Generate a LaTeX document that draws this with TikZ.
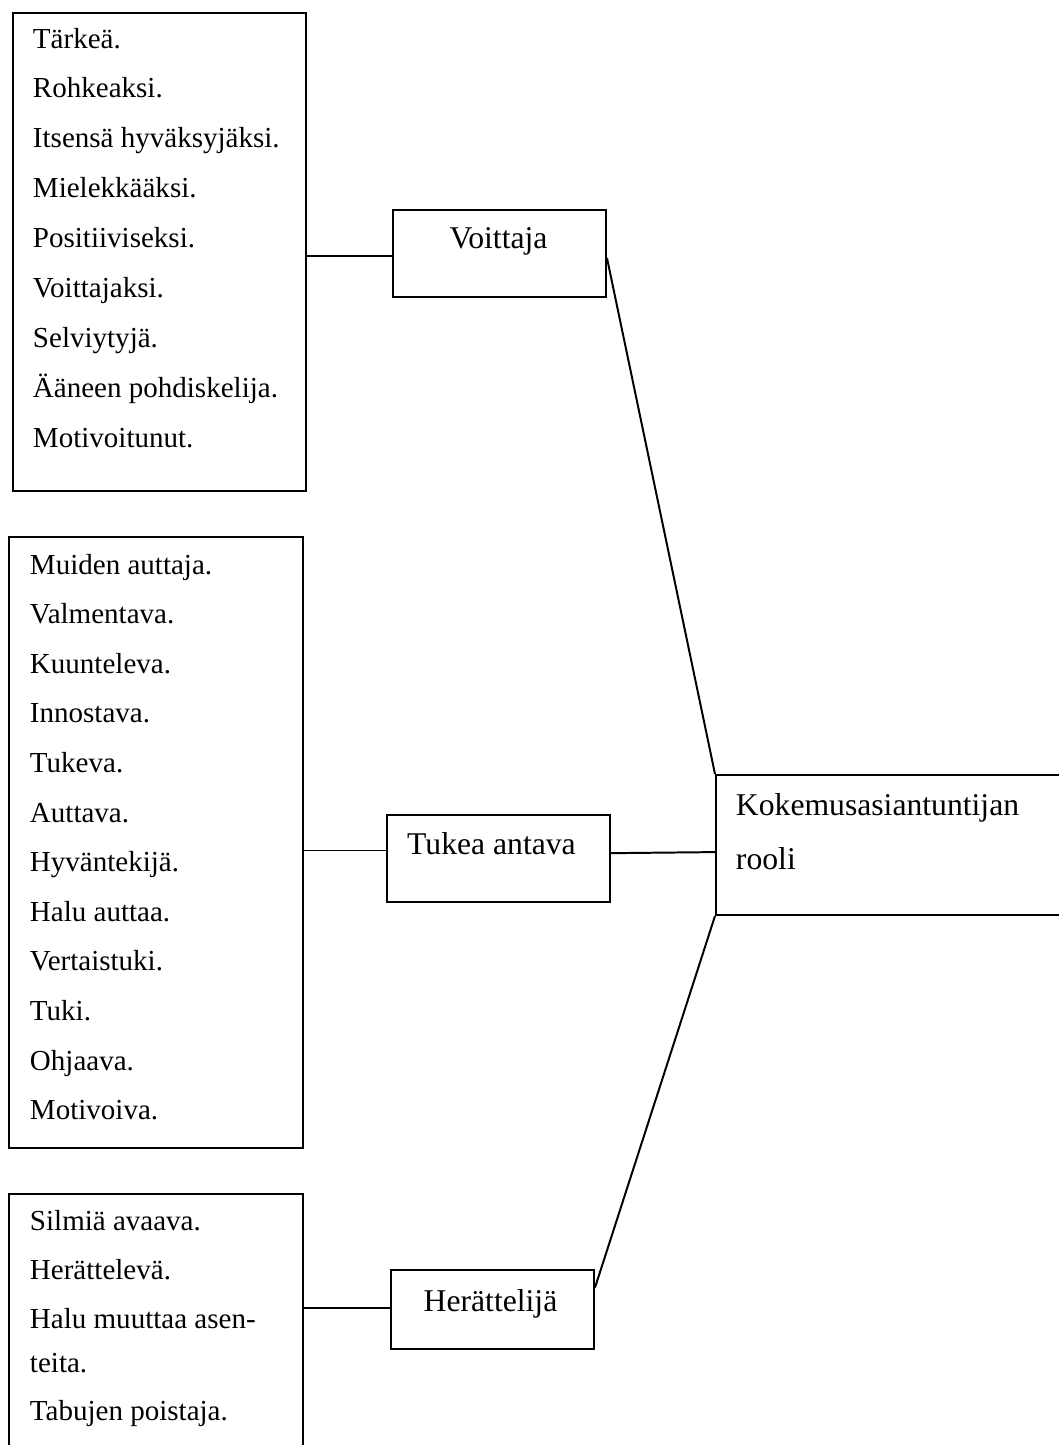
\documentclass[tikz,border=0pt]{standalone}
\usepackage{fontspec}
\setmainfont{Liberation Serif}
\usetikzlibrary{calc}
\newlength\pxl
\setlength\pxl{0.379pt}
\begin{document}
\begin{tikzpicture}[x=\pxl, y=-\pxl, line width=0.75pt,
  frame/.style 2 args={draw, rectangle, inner sep=0pt, anchor=north west,
    minimum width=#1*\pxl, minimum height=#2*\pxl},
  item/.style={anchor=base west, inner sep=0pt, font=\fontsize{11}{13}\selectfont},
  label/.style={anchor=base, inner sep=0pt, font=\fontsize{12}{14}\selectfont},
  link/.style={draw, line width=0.75pt}]
\useasboundingbox (0,0) rectangle (1059,1445);
\clip (0,0) rectangle (1059,1445);

% list boxes
\node[frame={293}{478}] (b1) at (12,12) {};
\node[frame={294}{611}] (b2) at (8,536) {};
\node[frame={294}{290}] (b3) at (8,1193) {};

% role boxes
\node[frame={213}{87}] (v) at (392,209) {};
\node[frame={223}{87}] (t) at (386,814) {};
\node[frame={203}{79}] (h) at (390,1269) {};
\node[frame={370}{140}] (k) at (715,774) {};

% role labels
\node[label] (vl) at (498.5,248) {Voittaja};
\node[label] (tl) at (491.5,854) {Tukea antava};
\node[label] (hl) at (490.5,1311) {Herättelijä};
\node[label, anchor=base west] (kl1) at (735,815) {Kokemusasiantuntijan};
\node[label, anchor=base west] (kl2) at (735,869) {rooli};

% list entries
\foreach \txt [count=\i] in {Tärkeä., Rohkeaksi., Itsensä hyväksyjäksi.,
    Mielekkääksi., Positiiviseksi., Voittajaksi., Selviytyjä.,
    Ääneen pohdiskelija., Motivoitunut.}
  \node[item] (p\i) at (32,{48+49.9*(\i-1)}) {\txt};

\foreach \txt [count=\i] in {Muiden auttaja., Valmentava., Kuunteleva.,
    Innostava., Tukeva., Auttava., Hyväntekijä., Halu auttaa.,
    Vertaistuki., Tuki., Ohjaava., Motivoiva.}
  \node[item] (q\i) at (29,{574+49.6*(\i-1)}) {\txt};

\node[item] (r1) at (29,1230) {Silmiä avaava.};
\node[item] (r2) at (29,1279) {Herättelevä.};
\node[item] (r3) at (29,1328) {Halu muuttaa asen-};
\node[item] (r4) at (29,1372) {teita.};
\node[item] (r5) at (29,1420) {Tabujen poistaja.};

% attachment points on the role boxes
\coordinate (vin)  at ($(v.north west)!0.53!(v.south west)$);
\coordinate (vout) at ($(v.north east)!0.55!(v.south east)$);
\coordinate (tin)  at ($(t.north west)!0.41!(t.south west)$);
\coordinate (tout) at ($(t.north east)!0.44!(t.south east)$);
\coordinate (hin)  at ($(h.north west)!0.48!(h.south west)$);
\coordinate (hout) at ($(h.north east)!0.23!(h.south east)$);
\coordinate (kin)  at ($(k.north west)!0.55!(k.south west)$);

% connectors
\path[link] (vin -| b1.east) -- (vin);
\path[link] (tin -| b2.east) -- (tin);
\path[link] (hin -| b3.east) -- (hin);
\path[link] (vout) -- (k.north west);
\path[link] (tout) -- (kin);
\path[link] (hout) -- (k.south west);
\end{tikzpicture}
\end{document}
